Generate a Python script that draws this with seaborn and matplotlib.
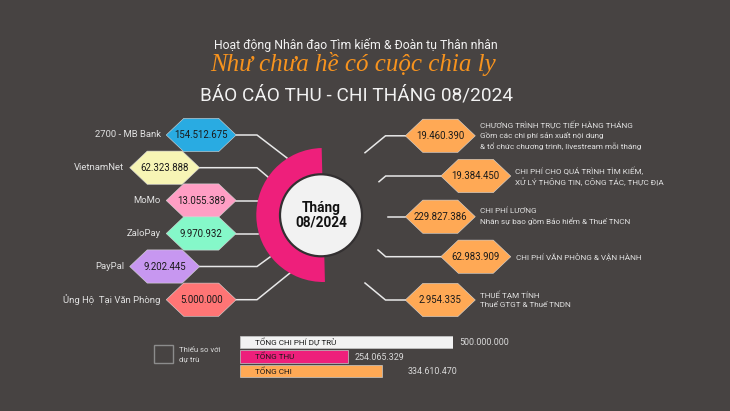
import matplotlib
matplotlib.use("Agg")
import matplotlib.pyplot as plt
from matplotlib.patches import Polygon, Wedge, Circle, Rectangle
import seaborn as sns
import pandas as pd

# ---- data ----
income_names = ["2700 - MB Bank", "VietnamNet", "MoMo", "ZaloPay", "PayPal", "Ủng Hộ  Tại Văn Phòng"]
income_values = [154512675, 62323888, 13055389, 9970932, 9202445, 5000000]
expense_values = [19460390, 19384450, 229827386, 62983909, 2954335]
expense_labels = [
    ["CHƯƠNG TRÌNH TRỰC TIẾP HÀNG THÁNG", "Gồm các chi phí sản xuất nội dung", "& tổ chức chương trình, livestream mỗi tháng"],
    ["CHI PHÍ CHO QUÁ TRÌNH TÌM KIẾM,", "XỬ LÝ THÔNG TIN, CÔNG TÁC, THỰC ĐỊA"],
    ["CHI PHÍ LƯƠNG", "Nhân sự bao gồm Bảo hiểm & Thuế TNCN"],
    ["CHI PHÍ VĂN PHÒNG & VẬN HÀNH"],
    ["THUẾ TẠM TÍNH", "Thuế GTGT & Thuế TNDN"],
]
total_names = ["TỔNG CHI PHÍ DỰ TRÙ", "TỔNG THU", "TỔNG CHI"]
total_values = [500000000, 254065329, 334610470]

# ---- styles and layout (pixels) ----
BG = "#474342"
ORANGE = "#ffa955"
MAGENTA = "#ee1f7b"
income_colors = ["#29abe2", "#f7f5b5", "#ff9ec4", "#85f8c9", "#c797f0", "#ff7575"]
total_colors = ["#f2f2f2", MAGENTA, ORANGE]
income_cx = [201.2, 164.7, 201.2, 201.2, 164.7, 201.2]
income_cy = [135, 167.7, 200.5, 233.5, 266.5, 299.7]
expense_cx = [440.3, 475.8, 440.3, 475.8, 440.3]
expense_cy = [135.8, 176, 216.7, 256.7, 300]
left_links = [[(257, 135), (287, 158)], [(257, 167.7), (268, 177)], [(258, 200.5)], [(258, 233.5)],
              [(257, 266.5), (270, 257)], [(257, 299.7), (290, 273)]]
right_links = [[(385.5, 135.8), (365, 152.7)], [(385.7, 176), (379, 181.7)], [(387.7, 216.7)],
               [(385.7, 256.7), (378, 250)], [(385.5, 300), (365, 283)]]
label_ys = [[125, 135.7, 146.3], [171, 181.5], [210.5, 221], [256.5], [294.5, 305]]
label_xs = [480.5, 515, 480.5, 516, 480.5]

plt.rcParams["font.family"] = ["Roboto", "DejaVu Sans"]

fig = plt.figure(figsize=(7.3, 4.11), dpi=100, facecolor=BG)
ax = fig.add_axes([0, 0, 1, 1])
ax.set_xlim(0, 730)
ax.set_ylim(411, 0)
ax.axis("off")
ax.set_zorder(2)


def fmt(v):
    return f"{v:,}".replace(",", ".")


def hexagon(cx, cy, color, z=3):
    hw, hh, tip = 35, 16.6, 17.5
    pts = [(cx - hw, cy), (cx - hw + tip, cy - hh), (cx + hw - tip, cy - hh),
           (cx + hw, cy), (cx + hw - tip, cy + hh), (cx - hw + tip, cy + hh)]
    ax.add_patch(Polygon(pts, closed=True, facecolor=color, edgecolor="#d8d8d8", lw=0.4, zorder=z))


def link(start, points):
    xs = [start[0]] + [p[0] for p in points]
    ys = [start[1]] + [p[1] for p in points]
    ax.plot(xs, ys, color="#e8e8e8", lw=1.1, zorder=1, solid_joinstyle="miter")


# titles
ax.text(355.5, 45, "Hoạt động Nhân đạo Tìm kiếm & Đoàn tụ Thân nhân", color="#f2f2f2",
        fontsize=8.85, ha="center", va="center")
ax.text(353.5, 64, "Như chưa hề có cuộc chia ly", color="#f7931e", fontsize=18, style="italic",
        family=["Liberation Serif", "DejaVu Serif"], ha="center", va="center")
ax.text(357, 95, "BÁO CÁO THU - CHI THÁNG 08/2024", color="#f2f2f2", fontsize=13.7,
        ha="center", va="center")

# incomes
for i, (name, val) in enumerate(zip(income_names, income_values)):
    cx, cy = income_cx[i], income_cy[i]
    link((cx + 35, cy), left_links[i])
    hexagon(cx, cy, income_colors[i], z=3 + i % 2)
    ax.text(cx, cy, fmt(val), color="#1a1a1a", fontsize=6.9, ha="center", va="center", zorder=6)
    ax.text(cx - 40.5, cy - 0.5, name, color="#e0e0e0", fontsize=6.8, ha="right", va="center", zorder=6)

# expenses
for i, val in enumerate(expense_values):
    cx, cy = expense_cx[i], expense_cy[i]
    link((cx - 35, cy), right_links[i])
    hexagon(cx, cy, ORANGE)
    ax.text(cx, cy, fmt(val), color="#1a1a1a", fontsize=6.9, ha="center", va="center", zorder=6)
    for line, y in zip(expense_labels[i], label_ys[i]):
        ax.text(label_xs[i], y, line, color="#e0e0e0", fontsize=5.85, ha="left", va="center", zorder=6)

# centre
ax.add_patch(Wedge((323.3, 215), 67, 88.6, 268.6, width=67, facecolor=MAGENTA, edgecolor="none", zorder=4))
ax.add_patch(Circle((321, 215.3), 41, facecolor="#f2f2f2", edgecolor="#333031", lw=1.6, zorder=5))
ax.text(321.5, 215.5, "Tháng\n08/2024", color="#111111", fontsize=9.8, fontweight="bold",
        ha="center", va="center", linespacing=1.05, zorder=6)

# shortfall legend
ax.add_patch(Rectangle((153.5, 345), 19, 17.5, facecolor="none", edgecolor="#8c8c8c", lw=1))
ax.text(179, 349.5, "Thiếu so với", color="#d9d9d9", fontsize=5.6, ha="left", va="center")
ax.text(179, 359.5, "dự trù", color="#d9d9d9", fontsize=5.6, ha="left", va="center")

# totals: real bars on a real scale, 500 M = 213.5 px
bax = fig.add_axes([239.5 / 730, 1 - 378.5 / 411, 213.5 / 730, 43.8 / 411])
bax.set_zorder(1)
df = pd.DataFrame({"name": total_names, "value": total_values})
sns.barplot(data=df, y="name", x="value", hue="name", palette=total_colors, legend=False,
            width=0.85, ax=bax, edgecolor="#c8c8c8", linewidth=0.5, saturation=1)
bax.set_xlim(0, 500000000)
bax.set_ylim(2.5, -0.5)
bax.axis("off")
for i, name in enumerate(total_names):
    ax.text(255, 342 + i * 14.6, name, color="#1a1a1a", fontsize=5.9, ha="left", va="center", zorder=6)
value_xs = [459, 355, 408]
for i, val in enumerate(total_values):
    ax.text(value_xs[i], [342.5, 357, 371.5][i], fmt(val), color="#d9d9d9", fontsize=6.4, ha="left", va="center")

fig.savefig("out.png", dpi=100, facecolor=BG)
